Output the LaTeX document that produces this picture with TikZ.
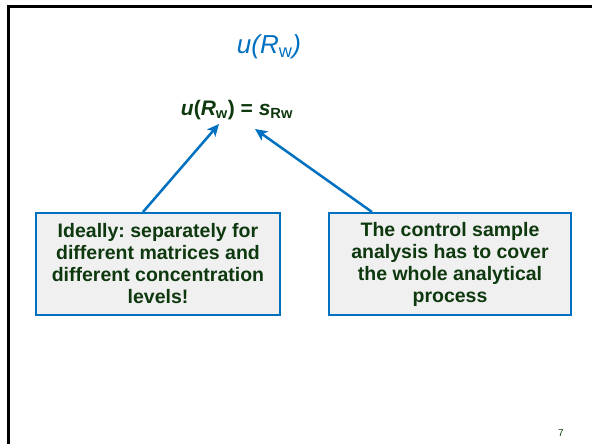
\documentclass[tikz,border=0pt]{standalone}
\usepackage{fontspec}
\setmainfont{Liberation Sans}
\usetikzlibrary{arrows.meta}
\frenchspacing
\definecolor{slideblue}{RGB}{0,112,192}
\definecolor{textgreen}{RGB}{14,56,14}
\definecolor{boxfill}{RGB}{240,240,240}
\tikzset{
  notebox/.style={draw=slideblue, line width=2pt, fill=boxfill, text=textgreen,
    font=\fontsize{19.5}{22}\selectfont\bfseries, align=center,
    minimum height=102pt, inner sep=0pt},
  pointer/.style={draw=slideblue, line width=2.5pt, -{Stealth[length=12pt,width=11pt,inset=3pt]}},
  frameline/.style={draw=black, line width=3pt}
}
\begin{document}
\begin{tikzpicture}[x=1pt,y=-1pt]
\useasboundingbox (0,0) rectangle (592,444);
\draw[frameline] (8,460) -- (8,6.5) -- (600,6.5);
\node[text=slideblue, font=\fontsize{26}{30}\selectfont] (title) at (269,47)
  {\textit{u(R}\textsubscript{w}\textit{)}};
\node[text=textgreen, font=\fontsize{21}{25}\selectfont\bfseries] (formula) at (237,110)
  {\textit{u}(\textit{R}\textsubscript{w}) = \textit{s}\textsubscript{Rw}};
\node[notebox, minimum width=244pt] (lbox) at (158,264) {Ideally: separately for\\ different matrices and\\ different concentration\\ levels!};
\node[notebox, minimum width=242pt] (rbox) at (450,264) {The control sample\\ analysis has to cover\\ the whole analytical\\ process};
\coordinate (tipL) at (219,124);
\coordinate (tipR) at (255,129);
\draw[pointer] ([xshift=-15pt]lbox.north) -- (tipL);
\draw[pointer] ([xshift=-78pt]rbox.north) -- (tipR);
\node[text=textgreen, font=\fontsize{10}{12}\selectfont] (pagenum) at (561,433) {7};
\end{tikzpicture}
\end{document}
